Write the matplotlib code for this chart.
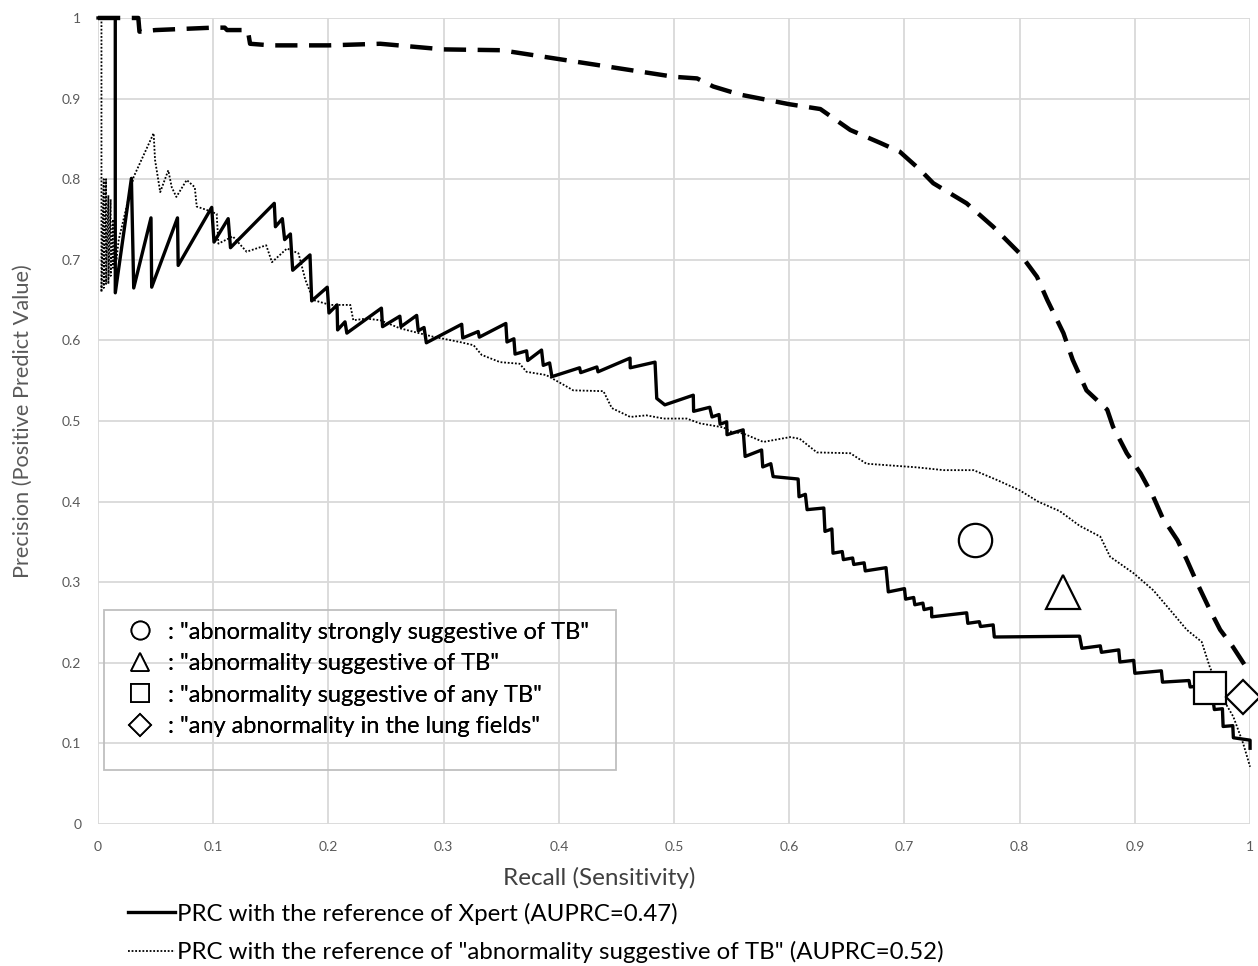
import matplotlib.pyplot as plt
from matplotlib.lines import Line2D
from matplotlib.patches import Rectangle

plt.rcParams['font.family'] = ['Lato', 'DejaVu Sans']

# PRC with the reference of Xpert (solid)
recall_xpert = [0, 0.015, 0.015, 0.029, 0.031, 0.046, 0.0466, 0.069, 0.0696, 0.0987, 0.1007, 0.113, 0.115,
                0.153, 0.154, 0.160, 0.162, 0.167, 0.169, 0.184, 0.1855, 0.199, 0.2005, 0.2075, 0.208, 0.2144,
                0.216, 0.246, 0.247, 0.262, 0.263, 0.2766, 0.278, 0.283, 0.285, 0.3157, 0.3166, 0.330, 0.331,
                0.354, 0.355, 0.361, 0.362, 0.372, 0.373, 0.385, 0.3865, 0.392, 0.394, 0.418, 0.419, 0.433,
                0.434, 0.4618, 0.462, 0.4835, 0.485, 0.492, 0.5167, 0.517, 0.531, 0.533, 0.539, 0.540, 0.5457,
                0.546, 0.560, 0.5617, 0.576, 0.577, 0.584, 0.586, 0.6077, 0.6085, 0.614, 0.6155, 0.630, 0.631,
                0.637, 0.638, 0.646, 0.647, 0.655, 0.656, 0.665, 0.666, 0.684, 0.686, 0.700, 0.701, 0.708,
                0.709, 0.716, 0.717, 0.7235, 0.7237, 0.754, 0.755, 0.765, 0.766, 0.777, 0.778, 0.852, 0.854,
                0.870, 0.871, 0.886, 0.887, 0.899, 0.900, 0.923, 0.924, 0.947, 0.948, 0.960, 0.961, 0.968,
                0.969, 0.976, 0.9766, 0.985, 0.9855, 1.0, 1.0]
prec_xpert = [1.0, 1.0, 0.659, 0.801, 0.665, 0.752, 0.666, 0.752, 0.693, 0.765, 0.722, 0.751, 0.715,
              0.770, 0.741, 0.751, 0.725, 0.732, 0.687, 0.706, 0.649, 0.666, 0.634, 0.644, 0.613, 0.623,
              0.609, 0.640, 0.617, 0.630, 0.617, 0.631, 0.612, 0.616, 0.597, 0.620, 0.603, 0.611, 0.604,
              0.621, 0.598, 0.602, 0.583, 0.587, 0.575, 0.588, 0.569, 0.572, 0.555, 0.566, 0.560, 0.567,
              0.561, 0.578, 0.566, 0.573, 0.528, 0.520, 0.532, 0.512, 0.517, 0.505, 0.508, 0.496, 0.499,
              0.483, 0.489, 0.456, 0.464, 0.443, 0.447, 0.431, 0.428, 0.406, 0.409, 0.390, 0.392, 0.363,
              0.366, 0.336, 0.338, 0.328, 0.330, 0.322, 0.324, 0.314, 0.318, 0.288, 0.292, 0.279, 0.281,
              0.272, 0.274, 0.266, 0.268, 0.257, 0.262, 0.249, 0.251, 0.245, 0.247, 0.232, 0.233, 0.218,
              0.221, 0.213, 0.216, 0.201, 0.203, 0.187, 0.190, 0.176, 0.178, 0.170, 0.172, 0.150, 0.152,
              0.142, 0.143, 0.121, 0.122, 0.107, 0.104, 0.094]

# PRC with the reference of "abnormality suggestive of TB" (dotted)
recall_sugg = [0.003, 0.003, 0.005, 0.005, 0.007, 0.007, 0.009, 0.009, 0.011, 0.011, 0.013, 0.013, 0.015,
               0.016, 0.018, 0.031, 0.0483, 0.0495, 0.054, 0.061, 0.064, 0.068, 0.077, 0.084, 0.0857, 0.094,
               0.103, 0.1045, 0.117, 0.129, 0.146, 0.151, 0.164, 0.174, 0.180, 0.187, 0.2014, 0.219, 0.2216,
               0.233, 0.245, 0.262, 0.291, 0.314, 0.326, 0.333, 0.349, 0.366, 0.372, 0.389, 0.404, 0.4125,
               0.4387, 0.446, 0.462, 0.476, 0.491, 0.511, 0.5226, 0.543, 0.5486, 0.560, 0.5775, 0.6007,
               0.609, 0.624, 0.653, 0.667, 0.7106, 0.734, 0.760, 0.780, 0.800, 0.816, 0.835, 0.852, 0.870,
               0.8785, 0.899, 0.916, 0.9306, 0.945, 0.958, 0.965, 0.977, 0.9855, 0.994, 1.0]
prec_sugg = [1.0, 0.66, 0.80, 0.665, 0.80, 0.67, 0.78, 0.67, 0.775, 0.68, 0.75, 0.69, 0.73,
             0.70, 0.725, 0.803, 0.857, 0.824, 0.784, 0.811, 0.790, 0.778, 0.799, 0.790, 0.766, 0.762,
             0.757, 0.720, 0.729, 0.710, 0.718, 0.697, 0.714, 0.708, 0.675, 0.650, 0.644, 0.644, 0.625,
             0.627, 0.625, 0.615, 0.6045, 0.598, 0.594, 0.582, 0.573, 0.571, 0.561, 0.557, 0.545, 0.538,
             0.537, 0.516, 0.505, 0.507, 0.503, 0.503, 0.497, 0.492, 0.487, 0.4845, 0.474, 0.480,
             0.478, 0.461, 0.460, 0.447, 0.4425, 0.439, 0.439, 0.427, 0.414, 0.400, 0.388, 0.370, 0.3565,
             0.3316, 0.311, 0.290, 0.2655, 0.241, 0.226, 0.195, 0.154, 0.133, 0.100, 0.071]

# third PRC (dashed)
recall_dash = [0.0, 0.035, 0.036, 0.05, 0.1, 0.11, 0.112, 0.13, 0.132, 0.15, 0.2, 0.245, 0.3, 0.35, 0.4,
               0.45, 0.5, 0.52, 0.534, 0.557, 0.6, 0.627, 0.653, 0.679, 0.696, 0.714, 0.725, 0.754, 0.777,
               0.800, 0.815, 0.824, 0.838, 0.846, 0.858, 0.876, 0.881, 0.893, 0.905, 0.916, 0.924, 0.937,
               0.945, 0.954, 0.965, 0.974, 0.985, 1.0]
prec_dash = [1.0, 1.0, 0.983, 0.985, 0.988, 0.988, 0.985, 0.985, 0.968, 0.966, 0.966, 0.968, 0.961, 0.960,
             0.949, 0.938, 0.927, 0.925, 0.915, 0.905, 0.893, 0.887, 0.861, 0.845, 0.834, 0.811, 0.795,
             0.770, 0.741, 0.708, 0.679, 0.650, 0.609, 0.576, 0.538, 0.514, 0.493, 0.460, 0.435, 0.406,
             0.380, 0.352, 0.328, 0.299, 0.266, 0.241, 0.220, 0.187]

# operating points of the readers
point_labels = [': "abnormality strongly suggestive of TB"',
                ': "abnormality suggestive of TB"',
                ': "abnormality suggestive of any TB"',
                ': "any abnormality in the lung fields"']
point_recall = [0.761, 0.838, 0.965, 0.994]
point_prec = [0.352, 0.288, 0.169, 0.158]
point_markers = ['o', '^', 's', 'D']
point_sizes = [24, 24, 23, 17]

fig = plt.figure(figsize=(12.58, 9.66), dpi=100)
ax = fig.add_axes([0.0779, 0.147, 0.9158, 0.8344])

ax.plot(recall_dash, prec_dash, color='black', lw=3.2, linestyle=(0, (5, 2.6)), clip_on=False, zorder=3)
l_sugg, = ax.plot(recall_sugg, prec_sugg, color='black', lw=1.3, linestyle=(0, (1, 1)), clip_on=False,
                  zorder=3, label='PRC with the reference of "abnormality suggestive of TB" (AUPRC=0.52)')
l_xpert, = ax.plot(recall_xpert, prec_xpert, color='black', lw=2.4, clip_on=False, zorder=4,
                   label='PRC with the reference of Xpert (AUPRC=0.47)')

for r, p, m, s in zip(point_recall, point_prec, point_markers, point_sizes):
    ax.plot(r, p, marker=m, ms=s, mfc='white', mec='black', mew=1.6, ls='none', clip_on=False, zorder=5)

ax.set_xlim(0, 1)
ax.set_ylim(0, 1)
ticks = [i / 10 for i in range(11)]
tick_labels = ['0'] + ['0.%d' % i for i in range(1, 10)] + ['1']
ax.set_xticks(ticks)
ax.set_xticklabels(tick_labels)
ax.set_yticks(ticks)
ax.set_yticklabels(tick_labels)
ax.tick_params(length=0, labelsize=10, labelcolor='#595959', pad=12)
ax.grid(True, color='#d9d9d9', lw=1.3)
ax.set_axisbelow(True)
for s in ax.spines.values():
    s.set_visible(False)

ax.set_xlabel('Recall (Sensitivity)', fontsize=17.5, color='#404040', labelpad=10.5, x=0.435)
ax.set_ylabel('Precision (Positive Predict Value)', fontsize=15.7, color='#595959', labelpad=21)

# box with the reader operating points
ax.add_patch(Rectangle((0.0052, 0.067), 0.444, 0.1985, transform=ax.transAxes, fill=False,
                       edgecolor='#bfbfbf', lw=1.3, zorder=6))
handles = [Line2D([], [], marker=m, ms=13 if m != 'D' else 11, mfc='white', mec='black', mew=1.3, ls='none')
           for m in point_markers]
leg = ax.legend(handles, point_labels, loc='upper left', bbox_to_anchor=(0.0200, 0.2512), frameon=False,
                fontsize=17, handletextpad=0.39, labelspacing=0.445, borderpad=0.0, borderaxespad=0.0,
                handlelength=1.6)
ax.add_artist(leg)

fig.legend([l_xpert, l_sugg], [l_xpert.get_label(), l_sugg.get_label()], loc='upper left',
           bbox_to_anchor=(0.1017, 0.0657), frameon=False, fontsize=17.3, handlelength=1.95,
           handletextpad=0.08, labelspacing=0.68, borderpad=0.0, borderaxespad=0.0)

fig.savefig('out.png', dpi=100)
